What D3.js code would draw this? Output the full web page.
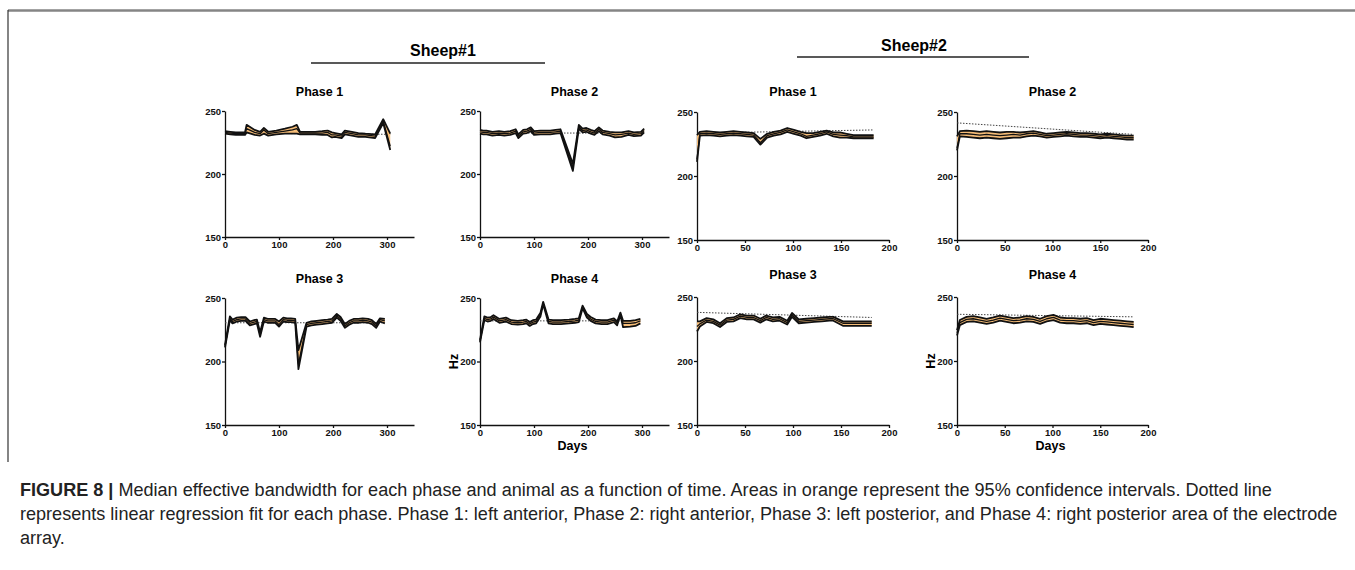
<!DOCTYPE html>
<html>
<head>
<meta charset="utf-8">
<script src="https://cdn.jsdelivr.net/npm/d3@7"></script>
<style>
  body { margin: 0; background: #fff; }
  svg text { font-family: "Liberation Sans", Arial, sans-serif; }
  .axis path, .axis line { stroke: #111; stroke-width: 1.3; }
  .axis text { font-size: 9.5px; font-weight: bold; fill: #111; }
</style>
</head>
<body>
<svg width="1355" height="570"></svg>
<script>
// ---- data ----
var yTicks = [150, 200, 250];
var xTicksS1 = [0, 100, 200, 300];
var xTicksS2 = [0, 50, 100, 150, 200];

// Sheep#1 Phase 1
var s1p1Days = [0, 10, 20, 37, 40, 55, 65, 72, 80, 95, 111, 125, 133, 139, 150, 167, 180, 190, 198, 204, 216, 222, 235, 247, 260, 278, 293, 306];
var s1p1Med  = [233, 232.5, 232, 232, 236, 233, 232, 235, 232, 233, 234, 235, 236, 232.5, 232.5, 232.5, 232.5, 233, 231, 231, 230, 233, 232, 231, 231, 230, 242, 222];
var s1p1Hi   = [234, 233.5, 233, 233, 239, 235, 233.5, 236.5, 233.5, 234.5, 236, 237.5, 239, 233.5, 233.5, 233.5, 234, 234.5, 233, 232.5, 231.5, 234.5, 233.5, 232.5, 232, 231.5, 243.5, 232];
var s1p1Lo   = [232, 231.5, 231, 231, 233, 231, 230.5, 232, 230.5, 231.5, 232, 232, 232, 231.5, 231.5, 231.5, 231, 231, 229, 229.5, 228.5, 231.5, 230.5, 229.5, 229.5, 228.5, 240.5, 219];
var s1p1Reg  = [232.5, 231.5];

// Sheep#1 Phase 2
var s1p2Days = [0, 6, 12, 23, 35, 45, 56, 66, 71, 80, 87, 94, 100, 112, 130, 140, 149, 172, 183, 190, 197, 205, 212, 220, 227, 240, 250, 262, 275, 285, 298, 304];
var s1p2Med  = [233.5, 233, 233, 232, 232.5, 232, 232.5, 234, 230, 233.5, 234, 235.5, 232.5, 233, 233, 233.5, 234, 205, 237.5, 234.5, 235, 233.5, 232.5, 235.5, 233, 232, 231, 231.5, 232.5, 231.5, 232, 234.5];
var s1p2Hi   = [235, 234.5, 234.5, 233.5, 234, 233.5, 234, 235.5, 231.5, 235, 235.5, 237, 234, 234.5, 234.5, 235, 235.5, 208, 239, 236, 236.5, 235, 234, 237, 234.5, 233.5, 233, 233, 234, 233, 233.5, 236];
var s1p2Lo   = [232, 231.5, 231.5, 230.5, 231, 230.5, 231, 232.5, 228.5, 232, 232.5, 234, 231, 231.5, 231.5, 232, 232.5, 202.5, 236, 233, 233.5, 232, 231, 234, 231.5, 230.5, 229, 229.5, 231, 230, 230.5, 233];
var s1p2Reg  = [232.5, 232.5];

// Sheep#2 Phase 1
var s2p1Days = [0, 3, 10, 17, 24, 31, 38, 45, 52, 59, 66, 73, 80, 87, 94, 101, 108, 114, 121, 128, 135, 142, 149, 156, 163, 170, 177, 184];
var s2p1Med  = [213, 233, 233.5, 233, 232.5, 233, 233.5, 233, 232.5, 232, 226, 231.5, 233, 234, 236, 234.5, 233, 231, 232, 233, 234.5, 232.5, 232, 231.5, 230.5, 230.5, 230.5, 230.5];
var s2p1Hi   = [232, 234.5, 235, 234.5, 234, 234.5, 235, 234.5, 234, 233.5, 229, 233, 234.5, 235.5, 237.5, 236, 234.5, 233.5, 233.5, 234.5, 235.5, 234, 234, 233, 232, 232, 232, 232];
var s2p1Lo   = [211, 231.5, 232, 231.5, 231, 231.5, 232, 231.5, 231, 230.5, 224.5, 230, 231.5, 232.5, 234.5, 233, 231.5, 229.5, 230.5, 231.5, 233, 231, 230, 230, 229.5, 229.5, 229.5, 229.5];
var s2p1Reg  = [233.5, 236];

// Sheep#2 Phase 2
var s2p2Days = [0, 3, 10, 17, 24, 31, 38, 45, 52, 59, 66, 73, 80, 87, 94, 101, 108, 115, 122, 129, 136, 143, 150, 157, 164, 171, 178, 185];
var s2p2Med  = [222, 233, 233, 232.5, 232, 232.5, 232, 231.5, 232, 232.5, 232, 233, 233.5, 232.5, 231.5, 232, 232.5, 233, 232.5, 232, 232, 231.5, 231, 231.5, 231, 230.5, 230, 230];
var s2p2Hi   = [231, 235, 235.5, 235, 234.5, 235, 234.5, 234, 234.5, 234.5, 234, 234.5, 235, 234, 233, 233.5, 234, 234.5, 234, 233.5, 233.5, 233, 232.5, 233, 232.5, 232, 231.5, 231.5];
var s2p2Lo   = [220, 231, 230.5, 230, 229.5, 230, 229.5, 229, 229.5, 230, 230, 231, 231.5, 231, 230, 230.5, 231, 231.5, 231, 230.5, 230.5, 230, 229.5, 230, 229.5, 229, 228.5, 228.5];
var s2p2Reg  = [241.5, 232.5];

// Sheep#1 Phase 3
var s1p3Days = [0, 9, 14, 22, 30, 38, 46, 54, 59, 65, 72, 79, 86, 93, 100, 108, 115, 122, 130, 136, 151, 160, 170, 180, 190, 198, 207, 214, 222, 230, 238, 247, 255, 265, 272, 280, 287, 296];
var s1p3Med  = [212, 234, 231.5, 233, 233.5, 233.5, 230, 231, 231.5, 221, 233, 232, 232, 232, 229, 233, 232.5, 232.5, 232, 198, 229, 230, 230.5, 231, 231.5, 232, 236, 233.5, 228, 230.5, 232, 232, 232.5, 232, 231, 228, 233, 232];
var s1p3Hi   = [213, 235.5, 233, 234.5, 235, 235, 231.5, 232.5, 233, 223, 234.5, 233.5, 233.5, 233.5, 231.5, 234.5, 234, 234, 233.5, 209, 230.5, 231.5, 232, 232.5, 233, 233.5, 237.5, 235, 229.5, 232, 233.5, 233.5, 234, 233.5, 232.5, 229.5, 234, 233.5];
var s1p3Lo   = [211, 232.5, 230, 231.5, 232, 232, 228.5, 229.5, 230, 219.5, 231.5, 230.5, 230.5, 230.5, 227.5, 231.5, 231, 231, 230.5, 194, 227.5, 228.5, 229, 229.5, 230, 230.5, 234.5, 232, 226.5, 229, 230.5, 230.5, 231, 230.5, 229.5, 226.5, 231.5, 230];
var s1p3Reg  = [230.5, 230.5];

// Sheep#1 Phase 4
var s1p4Days = [0, 8, 14, 20, 25, 36, 48, 58, 70, 80, 86, 92, 98, 104, 112, 117, 127, 135, 150, 165, 176, 183, 190, 198, 205, 214, 225, 236, 248, 254, 260, 265, 278, 288, 297];
var s1p4Med  = [216, 234, 233, 233.5, 235, 232, 233, 231, 230.5, 231, 231.5, 229.5, 231, 231.5, 237, 246, 231.5, 231, 231, 231.5, 232, 232.5, 243, 236, 233.5, 231.5, 231, 231, 232.5, 230, 237.5, 230, 230, 230.5, 232];
var s1p4Hi   = [217, 235.5, 234.5, 235, 236.5, 233.5, 234.5, 232.5, 232, 232.5, 233, 231, 232.5, 233, 238.5, 247, 233, 232.5, 232.5, 233, 233.5, 234, 244, 237.5, 235, 233, 232.5, 232.5, 234, 231.5, 238.5, 232, 232, 232.5, 233.5];
var s1p4Lo   = [215, 232.5, 231.5, 232, 233.5, 230.5, 231.5, 229.5, 229, 229.5, 230, 228, 229.5, 230, 235.5, 245, 230, 229.5, 229.5, 230, 230.5, 231, 242, 234.5, 232, 230, 229.5, 229.5, 231, 228.5, 236.5, 227, 227.5, 228, 230];
var s1p4Reg  = [232, 232];

// Sheep#2 Phase 3
var s2p3Days = [0, 3, 10, 17, 24, 31, 38, 45, 52, 59, 66, 72, 79, 86, 94, 99, 106, 114, 122, 130, 138, 142, 152, 160, 168, 175, 182];
var s2p3Med  = [227, 229, 232, 231, 228, 232, 232.5, 235, 234, 234, 231.5, 234, 232.5, 233, 230, 236, 231, 231.5, 232, 232.5, 233, 233, 229.5, 229.5, 229.5, 229.5, 229.5];
var s2p3Hi   = [231, 231, 233.5, 232.5, 229.5, 233.5, 234, 236.5, 235.5, 235.5, 233, 235.5, 234, 234.5, 231.5, 237.5, 232.5, 233, 233.5, 234, 234.5, 234.5, 231, 231, 231, 231, 231];
var s2p3Lo   = [223, 227, 230.5, 229.5, 226.5, 230.5, 231, 233.5, 232.5, 232.5, 230, 232.5, 231, 231.5, 228.5, 234.5, 229.5, 230, 230.5, 231, 231.5, 231.5, 227.5, 227.5, 227.5, 227.5, 227.5];
var s2p3Reg  = [238, 234];

// Sheep#2 Phase 4
var s2p4Days = [0, 3, 10, 17, 24, 31, 38, 45, 52, 59, 66, 73, 80, 87, 94, 101, 108, 115, 122, 129, 136, 143, 150, 157, 164, 171, 178, 185];
var s2p4Med  = [222, 230, 232.5, 233, 232, 231, 232, 233.5, 232.5, 231.5, 232, 233, 232.5, 231, 233, 234, 232, 231.5, 231.5, 231, 231.5, 230, 231, 230.5, 230, 229.5, 229, 228.5];
var s2p4Hi   = [224, 232, 234.5, 235, 234, 233, 234, 235.5, 234.5, 233.5, 234, 235, 234.5, 233, 235, 236, 234, 233.5, 233.5, 233, 233.5, 232, 233, 232.5, 232, 231.5, 231, 230.5];
var s2p4Lo   = [220, 228, 230.5, 231, 230, 229, 230, 231.5, 230.5, 229.5, 230, 231, 230.5, 229, 231, 232, 230, 229.5, 229.5, 229, 229.5, 228, 229, 228.5, 228, 227.5, 227, 226.5];
var s2p4Reg  = [236.5, 234.5];

// ---- layout ----
var panels = [
  {title: "Phase 1", days: s1p1Days, med: s1p1Med, hi: s1p1Hi, lo: s1p1Lo, reg: s1p1Reg, xr: [225, 414], yr: [237, 111], xmax: 350, xt: xTicksS1, ty: 96},
  {title: "Phase 2", days: s1p2Days, med: s1p2Med, hi: s1p2Hi, lo: s1p2Lo, reg: s1p2Reg, xr: [480, 669], yr: [237, 111], xmax: 350, xt: xTicksS1, ty: 96},
  {title: "Phase 1", days: s2p1Days, med: s2p1Med, hi: s2p1Hi, lo: s2p1Lo, reg: s2p1Reg, xr: [697, 889], yr: [240, 112], xmax: 200, xt: xTicksS2, ty: 96},
  {title: "Phase 2", days: s2p2Days, med: s2p2Med, hi: s2p2Hi, lo: s2p2Lo, reg: s2p2Reg, xr: [957, 1148], yr: [240, 112], xmax: 200, xt: xTicksS2, ty: 96},
  {title: "Phase 3", days: s1p3Days, med: s1p3Med, hi: s1p3Hi, lo: s1p3Lo, reg: s1p3Reg, xr: [225, 414], yr: [425, 298], xmax: 350, xt: xTicksS1, ty: 283},
  {title: "Phase 4", days: s1p4Days, med: s1p4Med, hi: s1p4Hi, lo: s1p4Lo, reg: s1p4Reg, xr: [480, 669], yr: [425, 298], xmax: 350, xt: xTicksS1, ty: 283, hz: true},
  {title: "Phase 3", days: s2p3Days, med: s2p3Med, hi: s2p3Hi, lo: s2p3Lo, reg: s2p3Reg, xr: [697, 889], yr: [425, 297], xmax: 200, xt: xTicksS2, ty: 279},
  {title: "Phase 4", days: s2p4Days, med: s2p4Med, hi: s2p4Hi, lo: s2p4Lo, reg: s2p4Reg, xr: [957, 1148], yr: [425, 297], xmax: 200, xt: xTicksS2, ty: 279, hz: true}
];

var svg = d3.select("svg");

// frame
svg.append("line").attr("x1", 8).attr("x2", 1355).attr("y1", 10.5).attr("y2", 10.5)
  .attr("stroke", "#858585").attr("stroke-width", 2.5);
svg.append("line").attr("x1", 8).attr("x2", 8).attr("y1", 10).attr("y2", 462)
  .attr("stroke", "#333").attr("stroke-width", 1.2);

// group headers
function header(txt, cx, ty, x1, x2, ly) {
  svg.append("text").attr("x", cx).attr("y", ty).attr("text-anchor", "middle")
    .style("font-size", "16px").style("font-weight", "bold").text(txt);
  svg.append("line").attr("x1", x1).attr("x2", x2).attr("y1", ly).attr("y2", ly)
    .attr("stroke", "#222").attr("stroke-width", 1.5);
}
header("Sheep#1", 443, 56, 311, 545, 63);
header("Sheep#2", 914, 51, 797, 1029, 57);

panels.forEach(function(p) {
  var x = d3.scaleLinear().domain([0, p.xmax]).range(p.xr);
  var y = d3.scaleLinear().domain([150, 250]).range(p.yr);
  var g = svg.append("g");
  var pts = p.days.map(function(d, i) { return {d: d, m: p.med[i], h: p.hi[i], l: p.lo[i]}; });

  g.append("g").attr("class", "axis").attr("transform", "translate(0," + p.yr[0] + ")")
    .call(d3.axisBottom(x).tickValues(p.xt).tickSize(3).tickSizeOuter(0).tickPadding(1));
  g.append("g").attr("class", "axis").attr("transform", "translate(" + p.xr[0] + ",0)")
    .call(d3.axisLeft(y).tickValues(yTicks).tickSize(3).tickSizeOuter(0).tickPadding(1));

  // regression fit
  var dmax = d3.max(p.days);
  g.append("line").attr("x1", x(0)).attr("x2", x(dmax))
    .attr("y1", y(p.reg[0])).attr("y2", y(p.reg[1]))
    .attr("stroke", "#444").attr("stroke-width", 1).attr("stroke-dasharray", "1.5,1.5");

  var area = d3.area().x(function(d) { return x(d.d); })
    .y0(function(d) { return y(d.l); }).y1(function(d) { return y(d.h); });
  g.append("path").datum(pts).attr("d", area).attr("fill", "#f6bd78");

  ["l", "h"].forEach(function(k) {
    g.append("path").datum(pts)
      .attr("d", d3.line().x(function(d) { return x(d.d); }).y(function(d) { return y(d[k]); }))
      .attr("fill", "none").attr("stroke", "#111").attr("stroke-width", 1.8)
      .attr("stroke-linejoin", "round");
  });
  g.append("path").datum(pts)
    .attr("d", d3.line().x(function(d) { return x(d.d); }).y(function(d) { return y(d.m); }))
    .attr("fill", "none").attr("stroke", "#111").attr("stroke-width", 1.3)
    .attr("stroke-linejoin", "round");

  g.append("text").attr("x", (p.xr[0] + p.xr[1]) / 2).attr("y", p.ty).attr("text-anchor", "middle")
    .style("font-size", "12.5px").style("font-weight", "bold").text(p.title);

  if (p.hz) {
    g.append("text").attr("transform", "translate(" + (p.xr[0] - 22) + "," + ((p.yr[0] + p.yr[1]) / 2) + ") rotate(-90)")
      .attr("text-anchor", "middle").style("font-size", "12.5px").style("font-weight", "bold").text("Hz");
    g.append("text").attr("x", (p.xr[0] + p.xr[1]) / 2 - 2).attr("y", p.yr[0] + 25).attr("text-anchor", "middle")
      .style("font-size", "12.5px").style("font-weight", "bold").text("Days");
  }
});

// caption; the second line runs almost to the right edge in the original
var capLines = [
  [["FIGURE 8 | ", true], ["Median effective bandwidth for each phase and animal as a function of time. Areas in orange represent the 95% confidence intervals. Dotted line", false]],
  [["represents linear regression fit for each phase. Phase 1: left anterior, Phase 2: right anterior, Phase 3: left posterior, and Phase 4: right posterior area of the electrode", false]],
  [["array.", false]]
];
var capTexts = capLines.map(function(line, i) {
  var t = svg.append("text").attr("x", 20).attr("y", 496 + i * 24)
    .style("font-size", "16px").attr("fill", "#222");
  line.forEach(function(seg) {
    t.append("tspan").style("font-weight", seg[1] ? "bold" : "normal").text(seg[0]);
  });
  return t;
});
var capSize = 16 * 1318 / capTexts[1].node().getComputedTextLength();
capTexts.forEach(function(t) { t.style("font-size", capSize + "px"); });
</script>
</body>
</html>
